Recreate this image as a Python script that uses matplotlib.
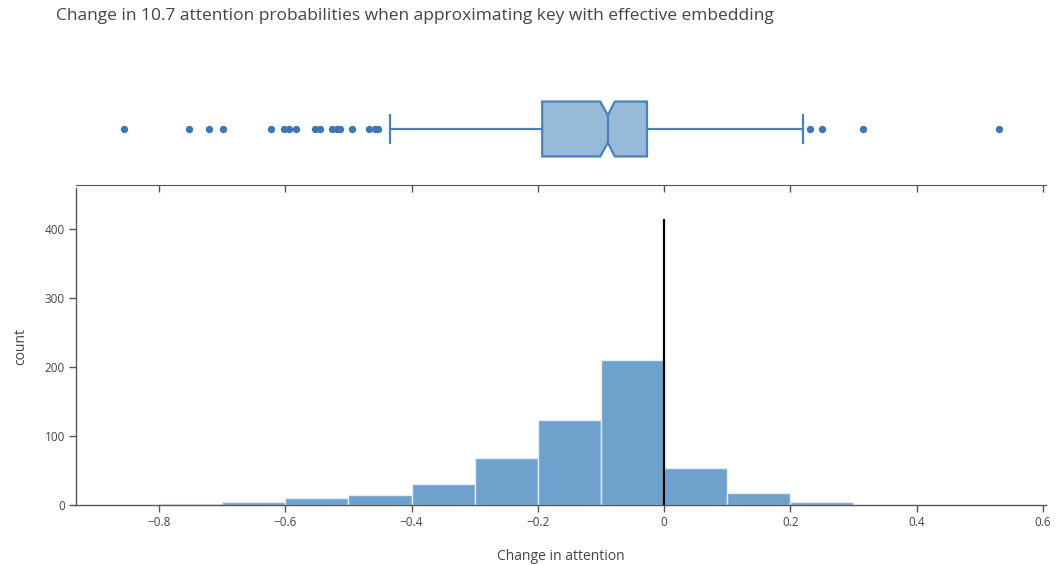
import numpy as np
import matplotlib
matplotlib.use('Agg')
import matplotlib.pyplot as plt

plt.rcParams['font.family'] = ['Open Sans', 'DejaVu Sans']

# histogram: bin edges (width 0.1) and counts
bin_left = [-0.8, -0.7, -0.6, -0.5, -0.4, -0.3, -0.2, -0.1, 0.0, 0.1, 0.2]
counts = [2, 4, 10, 14, 30, 68, 123, 210, 54, 18, 4]

# marginal box summary
q1, median, q3 = -0.193, -0.089, -0.027
whisker_lo, whisker_hi = -0.434, 0.220
notch_lo, notch_hi = -0.101, -0.078
outliers = [-0.855, -0.752, -0.721, -0.699, -0.623, -0.602, -0.594, -0.583,
            -0.553, -0.545, -0.526, -0.518, -0.513, -0.495, -0.468, -0.458,
            -0.453, 0.231, 0.250, 0.315, 0.531]

# reference line at zero
zero_line_top = 414

x_ticks = [-0.8, -0.6, -0.4, -0.2, 0, 0.2, 0.4, 0.6]
x_tick_labels = ['\u22120.8', '\u22120.6', '\u22120.4', '\u22120.2', '0', '0.2', '0.4', '0.6']
y_ticks = [0, 100, 200, 300, 400]

W, H = 1057, 565
fig = plt.figure(figsize=(W / 100, H / 100), dpi=100)

text_col = '#444444'
axis_col = '#555555'
xlim = (-0.9315, 0.6051)

# main histogram axes
ax = fig.add_axes([76 / W, (H - 505) / H, (1046 - 76) / W, (505 - 188) / H])
ax.bar(bin_left, counts, width=0.1, align='edge', color='#6ea1cb',
       edgecolor='#e2ecf5', linewidth=1.0)
ax.vlines(0, 0, zero_line_top, color='black', linewidth=1.6, zorder=3)
ax.set_xlim(*xlim)
ax.set_ylim(0, 459.4)
ax.set_xticks(x_ticks)
ax.set_xticklabels(x_tick_labels)
ax.set_yticks(y_ticks)
for side in ['top', 'right']:
    ax.spines[side].set_visible(False)
for side in ['left', 'bottom']:
    ax.spines[side].set_color(axis_col)
    ax.spines[side].set_linewidth(1.0)
ax.tick_params(direction='out', length=5, width=1, color=axis_col,
               labelcolor=text_col, labelsize=8.5, pad=3)
ax.set_xlabel('Change in attention', fontsize=10, color=text_col, labelpad=14)
ax.set_ylabel('count', fontsize=10, color=text_col, labelpad=12)

# marginal box axes
bax = fig.add_axes([76 / W, (H - 185) / H, (1046 - 76) / W, (185 - 73) / H])
stats = [{
    'med': median, 'q1': q1, 'q3': q3,
    'whislo': whisker_lo, 'whishi': whisker_hi,
    'cilo': notch_lo, 'cihi': notch_hi,
    'fliers': outliers,
}]
line_col = '#4a80bb'
bax.bxp(stats, positions=[0], widths=0.98, orientation='horizontal',
        shownotches=True, patch_artist=True,
        boxprops=dict(facecolor='#97bad9', edgecolor=line_col, linewidth=1.6),
        medianprops=dict(color=line_col, linewidth=1.6),
        whiskerprops=dict(color=line_col, linewidth=1.6),
        capprops=dict(color=line_col, linewidth=1.6),
        flierprops=dict(marker='o', markersize=4.3, markerfacecolor='#3c78b8',
                        markeredgecolor='#3c78b8', linestyle='none'),
        capwidths=0.5)
bax.set_xlim(*xlim)
bax.set_ylim(-1, 1)
bax.set_xticks(x_ticks)
bax.set_yticks([])
bax.tick_params(axis='x', direction='out', length=5, width=1, color=axis_col,
                labelbottom=False)
for side in ['top', 'right', 'left']:
    bax.spines[side].set_visible(False)
bax.spines['bottom'].set_color(axis_col)
bax.patch.set_alpha(0)

fig.text(56 / W, 1 - 16 / H, 'Change in 10.7 attention probabilities when approximating key with effective embedding',
         fontsize=12.5, color=text_col, ha='left', va='center')

fig.savefig('out.png', dpi=100)
